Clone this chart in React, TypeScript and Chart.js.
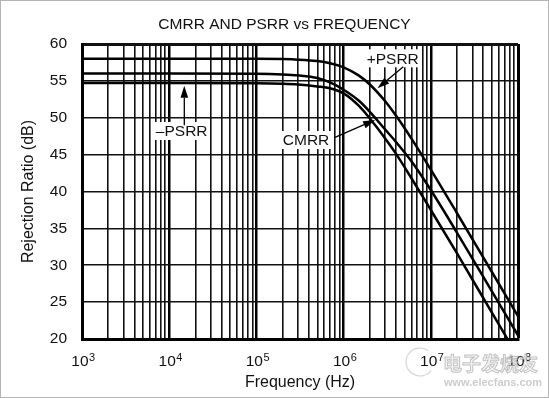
import React, { useEffect, useRef } from 'react';
import { Chart, registerables } from 'chart.js';

Chart.register(...registerables);

// ---- data ----
const frequencyHz = [1e3, 1e4, 1e5, 2e5, 3e5, 5e5, 7e5, 1e6, 1.5e6, 2e6, 3e6, 4e6, 6e6, 1e7, 2e7, 5e7, 1e8];
const plusPsrrDb = [58.0, 58.0, 57.99, 57.95, 57.88, 57.68, 57.39, 56.83, 55.71, 54.51, 52.23, 50.26, 47.17, 42.97, 37.05, 29.12, 23.1];
const cmrrDb = [56.0, 56.0, 55.97, 55.88, 55.75, 55.4, 54.8, 53.8, 52.3, 50.8, 48.4, 46.7, 44.1, 40.2, 34.4, 26.5, 20.5];
const minusPsrrDb = [54.7, 54.7, 54.68, 54.62, 54.52, 54.25, 54.0, 53.3, 51.6, 49.9, 47.2, 45.1, 41.8, 37.5, 31.6, 23.6, 17.6];

const yMinDb = 20;
const yMaxDb = 60;
const yStepDb = 5;
const xDecades = [1e3, 1e4, 1e5, 1e6, 1e7, 1e8];
const xDecadeBase = '10';
const xDecadeExponents = ['3', '4', '5', '6', '7', '8'];
const minorMultipliers = [2, 3, 4, 5, 6, 7, 8, 9];

const titleText = 'CMRR AND PSRR vs FREQUENCY';
const xTitle = 'Frequency (Hz)';
const yTitle = 'Rejection Ratio (dB)';

const curveLabels = [
  { text: '+PSRR', f: 3.66e6, db: 58.06 },
  { text: 'CMRR', f: 3.71e5, db: 46.98 },
  { text: '\u2013PSRR', f: 1.39e4, db: 48.2 },
];
const curveArrows = [
  { fromF: 4.84e6, fromDb: 56.92, toF: 2.45e6, toDb: 54.0 },
  { fromF: 7.96e5, fromDb: 47.35, toF: 2.3e6, toDb: 49.7 },
  { fromF: 1.49e4, fromDb: 49.0, toF: 1.49e4, toDb: 54.35 },
];

const FONT = '"Liberation Sans", Arial, Helvetica, sans-serif';
const FS = 15.5;
const TS = 16;
const TEXT = '#111';

const isDecade = (v: number) => Math.abs(Math.log10(v) - Math.round(Math.log10(v))) < 1e-6;

const annotationPlugin = {
  id: 'curveAnnotations',
  afterDatasetsDraw(chart: any) {
    const { ctx } = chart;
    const xs = chart.scales.x;
    const ys = chart.scales.y;
    ctx.save();
    ctx.font = `${FS}px ${FONT}`;
    ctx.textAlign = 'center';
    ctx.textBaseline = 'middle';
    curveLabels.forEach((l) => {
      const px = xs.getPixelForValue(l.f);
      const py = ys.getPixelForValue(l.db);
      const w = ctx.measureText(l.text).width;
      ctx.fillStyle = '#fff';
      ctx.fillRect(px - w / 2 - 2, py - 9, w + 4, 18);
      ctx.fillStyle = TEXT;
      ctx.fillText(l.text, px, py + 1);
    });
    curveArrows.forEach((a) => {
      const x0 = xs.getPixelForValue(a.fromF);
      const y0 = ys.getPixelForValue(a.fromDb);
      const x1 = xs.getPixelForValue(a.toF);
      const y1 = ys.getPixelForValue(a.toDb);
      const ang = Math.atan2(y1 - y0, x1 - x0);
      const len = 12;
      const hw = 3.8;
      const bx = x1 - len * Math.cos(ang);
      const by = y1 - len * Math.sin(ang);
      ctx.strokeStyle = '#000';
      ctx.lineWidth = 1.3;
      ctx.beginPath();
      ctx.moveTo(x0, y0);
      ctx.lineTo(bx, by);
      ctx.stroke();
      ctx.fillStyle = '#000';
      ctx.beginPath();
      ctx.moveTo(x1, y1);
      ctx.lineTo(bx + hw * Math.sin(ang), by - hw * Math.cos(ang));
      ctx.lineTo(bx - hw * Math.sin(ang), by + hw * Math.cos(ang));
      ctx.closePath();
      ctx.fill();
    });
    ctx.restore();
  },
};

const textPlugin = {
  id: 'topTitleAndTicks',
  afterDraw(chart: any) {
    const { ctx } = chart;
    const xs = chart.scales.x;
    ctx.save();
    ctx.font = `${FS}px ${FONT}`;
    ctx.fillStyle = TEXT;
    ctx.textAlign = 'center';
    ctx.textBaseline = 'middle';
    ctx.fillText(titleText, chart.width / 2 + 10, 24.5);

    // x decade labels: "10" with a raised exponent, placed by the x scale
    const baseY = chart.chartArea.bottom + 26.5;
    xDecades.forEach((d, i) => {
      const px = xs.getPixelForValue(d);
      ctx.font = `${FS}px ${FONT}`;
      const w1 = ctx.measureText(xDecadeBase).width;
      ctx.font = `11px ${FONT}`;
      const w2 = ctx.measureText(xDecadeExponents[i]).width;
      const x0 = px - (w1 + w2) / 2 + 1;
      ctx.textAlign = 'left';
      ctx.textBaseline = 'alphabetic';
      ctx.font = `${FS}px ${FONT}`;
      ctx.fillText(xDecadeBase, x0, baseY);
      ctx.font = `11px ${FONT}`;
      ctx.fillText(xDecadeExponents[i], x0 + w1 + 0.5, baseY - 4.5);
    });

    // watermark
    ctx.font = `bold 19px "Noto Sans CJK SC", sans-serif`;
    ctx.textAlign = 'left';
    ctx.textBaseline = 'alphabetic';
    ctx.lineWidth = 1;
    ctx.strokeStyle = 'rgba(150,150,150,0.55)';
    ctx.fillStyle = 'rgba(235,235,235,0.6)';
    ctx.fillText('电子发烧友', 443, 371);
    ctx.strokeText('电子发烧友', 443, 371);
    ctx.font = `bold 11px ${FONT}`;
    ctx.fillStyle = 'rgba(170,170,170,0.6)';
    ctx.fillText('www.elecfans.com', 444, 386);
    ctx.strokeStyle = 'rgba(170,170,170,0.5)';
    ctx.lineWidth = 1.2;
    ctx.beginPath();
    ctx.arc(420, 362, 14, 0.2 * Math.PI, 1.7 * Math.PI);
    ctx.stroke();
    ctx.restore();
  },
};

export default function App() {
  const canvasRef = useRef<HTMLCanvasElement | null>(null);

  useEffect(() => {
    const canvas = canvasRef.current;
    if (!canvas) return;
    const mk = (vals: number[]) => frequencyHz.map((f, i) => ({ x: f, y: vals[i] }));
    const ds = (label: string, vals: number[]) => ({
      label,
      data: mk(vals),
      borderColor: '#000',
      borderWidth: 2.5,
      pointRadius: 0,
      fill: false,
      cubicInterpolationMode: 'monotone' as const,
    });
    const chart = new Chart(canvas, {
      type: 'line',
      data: {
        datasets: [ds('+PSRR', plusPsrrDb), ds('CMRR', cmrrDb), ds('-PSRR', minusPsrrDb)],
      },
      options: {
        animation: false,
        responsive: false,
        devicePixelRatio: 1,
        layout: { padding: { left: 0, top: 44, right: 31, bottom: 0 } },
        plugins: {
          legend: { display: false },
          tooltip: { enabled: false },
          title: { display: false },
        },
        scales: {
          x: {
            type: 'logarithmic',
            min: xDecades[0],
            max: xDecades[xDecades.length - 1],
            afterBuildTicks: (scale: any) => {
              const t: any[] = [];
              xDecades.forEach((d, i) => {
                t.push({ value: d });
                if (i < xDecades.length - 1) minorMultipliers.forEach((m) => t.push({ value: d * m }));
              });
              scale.ticks = t;
            },
            afterFit: (scale: any) => {
              scale.height = 59;
            },
            ticks: {
              display: false,
              autoSkip: false,
              maxRotation: 0,
              minRotation: 0,
            },
            grid: {
              drawTicks: false,
              color: (c: any) => (c.tick && isDecade(c.tick.value) ? '#000' : '#111'),
              lineWidth: (c: any) => {
                const v = c.tick ? c.tick.value : 0;
                if (v >= 1e8 * 0.999) return 3;
                return isDecade(v) ? 2.5 : 1.6;
              },
            },
            border: { display: true, width: 3, color: '#000' },
            title: {
              display: true,
              text: xTitle,
              color: TEXT,
              font: { family: FONT, size: TS },
              padding: { top: 0, bottom: 5.7 },
            },
          },
          y: {
            type: 'linear',
            min: yMinDb,
            max: yMaxDb,
            afterFit: (scale: any) => {
              scale.width = 82;
            },
            ticks: {
              stepSize: yStepDb,
              padding: 15,
              color: TEXT,
              font: { family: FONT, size: FS },
            },
            grid: {
              drawTicks: false,
              color: '#111',
              lineWidth: (c: any) => (c.tick && c.tick.value >= yMaxDb ? 3 : 1.6),
            },
            border: { display: true, width: 3, color: '#000' },
            title: {
              display: true,
              text: yTitle,
              color: TEXT,
              font: { family: FONT, size: TS },
              padding: { top: 19.4, bottom: 0 },
            },
          },
        },
      },
      plugins: [annotationPlugin, textPlugin],
    } as any);
    return () => chart.destroy();
  }, []);

  return (
    <div style={{ position: 'fixed', left: 0, top: 0, width: 549, height: 398, background: '#fff' }}>
      <canvas ref={canvasRef} width={549} height={398} style={{ display: 'block', width: 549, height: 398 }} />
      <div
        style={{
          position: 'absolute',
          left: 0,
          top: 0,
          width: 549,
          height: 398,
          boxSizing: 'border-box',
          border: '1px solid #b4b4b4',
          pointerEvents: 'none',
        }}
      />
    </div>
  );
}
